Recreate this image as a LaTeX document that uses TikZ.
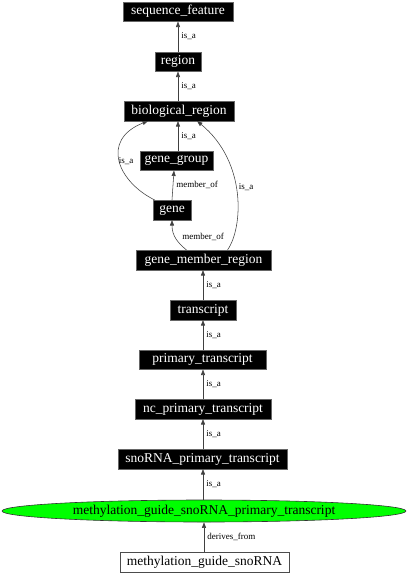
\documentclass[tikz,border=0pt]{standalone}
\usepackage{fontspec}
\setmainfont{Liberation Serif}
\usetikzlibrary{arrows.meta,shapes.geometric,calc}
\begin{document}
\begin{tikzpicture}[x=1pt,y=1pt,
  term/.style={rectangle,fill=black,draw=black!60,line width=0.5pt,text=white,
    font=\fontsize{13.5}{16}\selectfont,minimum height=19.5pt,inner xsep=2pt,inner ysep=0pt},
  leaf/.style={rectangle,fill=white,draw=black!70,line width=0.6pt,text=black,
    font=\fontsize{13.5}{16}\selectfont,minimum height=19.5pt,inner xsep=2pt,inner ysep=0pt},
  focus/.style={ellipse,fill=green,draw=black!80,line width=0.6pt,text=black,
    font=\fontsize{13.5}{16}\selectfont,minimum height=22pt,minimum width=404pt,inner sep=0pt},
  rel/.style={draw=black!75,line width=0.55pt,-{Triangle[length=5.5pt,width=4pt]}},
  lab/.style={font=\fontsize{9}{10}\selectfont,inner sep=0pt,text=black}]
\useasboundingbox (0,0) rectangle (409,-576);
\node[term,minimum width=110pt] (sf) at (178,-11.5) {sequence\_feature};
\node[term,minimum width=46pt] (reg) at (178,-61.5) {region};
\node[term,minimum width=110pt] (br) at (179,-111) {biological\_region};
\node[term,minimum width=73pt] (gg) at (176.5,-160.5) {gene\_group};
\node[term,minimum width=38pt] (gene) at (172,-210) {gene};
\node[term,minimum width=135pt] (gmr) at (203.5,-260) {gene\_member\_region};
\node[term,minimum width=66pt] (tr) at (203,-310) {transcript};
\node[term,minimum width=127pt] (pt) at (202.5,-359.5) {primary\_transcript};
\node[term,minimum width=136pt] (ncpt) at (203,-409) {nc\_primary\_transcript};
\node[term,minimum width=169pt] (snopt) at (202.5,-459) {snoRNA\_primary\_transcript};
\node[focus] (mgspt) at (204,-511) {methylation\_guide\_snoRNA\_primary\_transcript};
\node[leaf,minimum width=169pt] (mgs) at (204.5,-562.5) {methylation\_guide\_snoRNA};

\draw[rel] (reg.north -| sf) -- (sf.south) node[lab,midway,right=3pt] {is\_a};
\draw[rel] (br.north -| reg) -- (reg.south) node[lab,midway,right=3pt] {is\_a};
\draw[rel] (gg.north -| reg) -- (br.south -| reg) node[lab,midway,right=3pt] {is\_a};
\draw[rel] ($(gene.north)+(0,0)$) -- ($(gg.south)+(-2.5,0)$) node[lab,midway,right=3pt] {member\_of};
\draw[rel] ($(gene.north west)+(2,0)$) .. controls (118,-182) and (100,-140) .. ($(br.south)+(-31,0)$);
\node[lab] (l1) at (126,-161) {is\_a};
\draw[rel] ($(gmr.north)+(24,0)$) .. controls (243,-228) and (247,-162) .. ($(br.south)+(18,0)$);
\node[lab] (l2) at (246,-187) {is\_a};
\draw[rel] ($(gmr.north)+(-17,0)$) .. controls (178,-243) and (172,-236) .. (gene.south);
\node[lab] (l3) at (203,-237) {member\_of};
\draw[rel] (tr.north) -- (gmr.south -| tr) node[lab,midway,right=3pt] {is\_a};
\draw[rel] (pt.north -| tr) -- (tr.south) node[lab,midway,right=3pt] {is\_a};
\draw[rel] (ncpt.north -| tr) -- (pt.south -| tr) node[lab,midway,right=3pt] {is\_a};
\draw[rel] (snopt.north -| tr) -- (ncpt.south -| tr) node[lab,midway,right=3pt] {is\_a};
\draw[rel] (mgspt.north -| tr) -- (snopt.south -| tr) node[lab,midway,right=3pt] {is\_a};
\draw[rel] (mgs.north -| mgspt) -- (mgspt.south) node[lab,midway,right=3pt] {derives\_from};
\end{tikzpicture}
\end{document}
